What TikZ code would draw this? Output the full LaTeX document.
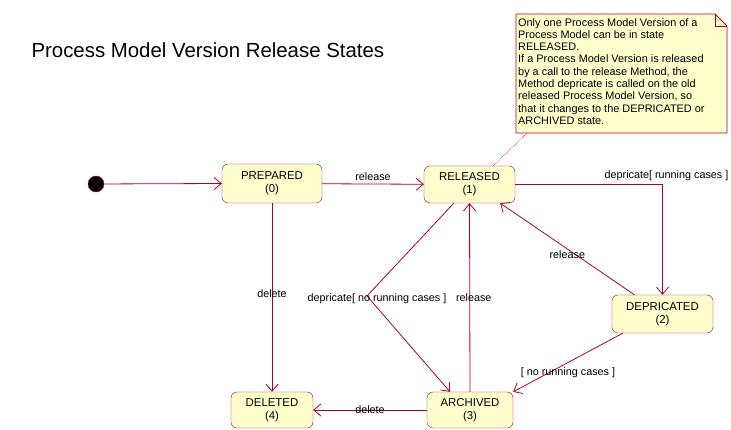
\documentclass[tikz,border=0pt]{standalone}
\usepackage{fontspec}
\setmainfont{Liberation Sans}
\usetikzlibrary{arrows.meta,positioning,calc}
\definecolor{bordo}{RGB}{170,0,45}
\definecolor{giallino}{RGB}{255,255,206}

\begin{document}
\begin{tikzpicture}[x=1pt,y=-1pt,
  stato/.style={rectangle, draw=bordo, fill=giallino, rounded corners=6pt, minimum height=37pt, align=center, inner sep=0pt, font=\fontsize{11.4}{13}\selectfont},
  freccia/.style={draw=bordo, line width=0.8pt, -{Straight Barb[length=7pt,width=12pt]}},
  etichetta/.style={font=\fontsize{10.8}{12}\selectfont, inner sep=1pt}]
\useasboundingbox (0,0) rectangle (731,430);

% Titolo
\node[anchor=base west, font=\fontsize{20.4}{22}\selectfont] (titolo) at (28,58) {Process Model Version Release States};

% Nota
\draw[draw=bordo, fill=giallino, line width=0.8pt] (516,14) -- (715,14) -- (727,26) -- (727,133) -- (516,133) -- cycle;
\draw[draw=bordo, line width=0.8pt] (715,14) -- (715,26) -- (727,26);
\node[anchor=north west, align=left, inner sep=0pt, font=\fontsize{10.9}{12.3}\selectfont] (nota) at (518,18) {Only one Process Model Version of a\\Process Model can be in state\\RELEASED.\\If a Process Model Version is released\\by a call to the release Method, the\\Method depricate is called on the old\\released Process Model Version, so\\that it changes to the DEPRICATED or\\ARCHIVED state.};
\coordinate (ancora) at (527,133);

% Stati
\node[circle, fill=black, draw=bordo, minimum size=16pt, inner sep=0pt] (inizio) at (96,184) {};
\node[stato, minimum width=100pt, minimum height=39pt] (prep) at (272,183.5) {PREPARED\\(0)};
\node[stato, minimum width=91pt] (rel) at (469.5,184.5) {RELEASED\\(1)};
\node[stato, minimum width=101pt, minimum height=38pt] (dep) at (662.5,314) {DEPRICATED\\(2)};
\node[stato, minimum width=86pt, minimum height=36pt] (arch) at (470,410) {ARCHIVED\\(3)};
\node[stato, minimum width=82pt, minimum height=36pt] (del) at (272,410) {DELETED\\(4)};
\coordinate (piega) at (367,296);

% Transizioni
\draw[freccia] (inizio) -- (prep.west);
\draw[freccia] (prep) -- node[etichetta, above=2pt] {release} (rel);
\draw[freccia] (rel.east) -| node[etichetta, pos=0.5, above=2pt, xshift=4pt] {depricate[ running cases ]} (dep.north);
\draw[freccia] ($(dep.north)+(-28,0)$) -- node[etichetta, pos=0.5, yshift=-6pt] {release} ($(rel.south east)+(-15,0)$);
\draw[freccia] ($(dep.south west)+(11,0)$) -- node[etichetta, pos=0.5, below=4pt] {[ no running cases ]} (arch.north east);
\draw[freccia] ($(rel.south west)+(30,0)$) -- (piega) node[etichetta, xshift=10pt, yshift=-3pt] {depricate[ no running cases ]} -- ($(arch.north)+(-20,0)$);
\draw[freccia] (arch.north) -- node[etichetta, pos=0.5, xshift=4pt] {release} (rel.south);
\draw[freccia] (prep.south) -- node[etichetta, pos=0.48] {delete} (del.north);
\draw[freccia] (arch.west) -- node[etichetta] {delete} (del.east);

% Nota collegata
\draw[draw=bordo, densely dotted, line width=0.6pt] (ancora) -- ($(rel.north east)+(-22,0)$);
\end{tikzpicture}
\end{document}
